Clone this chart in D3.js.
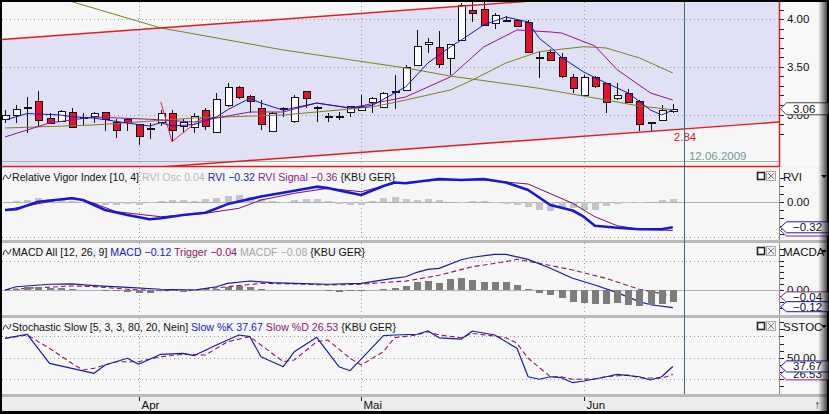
<!DOCTYPE html>
<html>
<head>
<meta charset="utf-8">
<script src="https://cdn.jsdelivr.net/npm/d3@7/dist/d3.min.js"></script>
<style>
html,body{margin:0;padding:0;background:#000;}
svg{display:block;}
text{font-family:"Liberation Sans",Arial,sans-serif;white-space:pre;}
</style>
</head>
<body>
<svg id="chart" width="829" height="414"></svg>
<script>
// ---- Data: KBU GER, daily, 16.03.2009 – 12.06.2009 ----
const dates = [
  "16.03.2009","17.03.2009","18.03.2009","19.03.2009","20.03.2009","23.03.2009","24.03.2009","25.03.2009","26.03.2009","27.03.2009","30.03.2009","31.03.2009",
  "01.04.2009","02.04.2009","03.04.2009","06.04.2009","07.04.2009","08.04.2009","09.04.2009","14.04.2009","15.04.2009","16.04.2009","17.04.2009","20.04.2009","21.04.2009","22.04.2009","23.04.2009","24.04.2009","27.04.2009","28.04.2009","29.04.2009","30.04.2009",
  "04.05.2009","05.05.2009","06.05.2009","07.05.2009","08.05.2009","11.05.2009","12.05.2009","13.05.2009","14.05.2009","15.05.2009","18.05.2009","19.05.2009","20.05.2009","21.05.2009","22.05.2009","25.05.2009","26.05.2009","27.05.2009","28.05.2009","29.05.2009",
  "02.06.2009","03.06.2009","04.06.2009","05.06.2009","08.06.2009","09.06.2009","10.06.2009","11.06.2009","12.06.2009"
];
const monthNames = ["Jan","Feb","Mär","Apr","Mai","Jun","Jul","Aug","Sep","Okt","Nov","Dez"];

const open = [
  2.950,2.987,3.076,3.142,2.960,2.932,3.029,2.971,2.977,3.023,
  2.924,2.956,2.900,2.855,2.924,3.019,2.879,2.866,3.047,2.809,
  3.097,3.286,3.191,3.065,2.827,3.065,2.932,3.247,3.082,2.987,
  2.987,3.029,3.047,3.124,3.076,3.247,3.265,3.520,3.741,3.712,
  3.590,3.783,4.098,4.105,3.964,3.993,3.993,3.968,3.607,3.660,
  3.607,3.397,3.205,3.391,3.334,3.176,3.223,3.145,2.924,2.942,
  3.037];
const high = [
  3.047,3.100,3.181,3.247,3.016,3.047,3.068,3.019,3.026,3.023,
  2.950,2.966,2.900,2.908,3.047,3.047,2.950,3.013,3.065,3.223,
  3.334,3.299,3.205,3.152,3.029,3.082,3.205,3.247,3.089,3.013,
  3.029,3.089,3.205,3.187,3.240,3.415,3.520,3.888,3.800,3.880,
  3.737,4.168,4.185,4.185,4.063,4.038,4.003,3.993,3.660,3.685,
  3.643,3.425,3.415,3.404,3.334,3.334,3.265,3.152,2.924,3.100,
  3.110];
const low = [
  2.911,2.911,2.803,2.879,2.900,2.926,2.869,2.890,2.911,2.827,
  2.756,2.830,2.680,2.743,2.879,2.714,2.803,2.803,2.837,2.803,
  3.082,3.160,3.013,2.837,2.819,2.977,2.907,3.065,2.924,2.924,
  2.942,2.977,3.047,3.013,3.065,3.055,3.257,3.520,3.643,3.485,
  3.415,3.775,3.975,3.940,3.895,3.975,3.922,3.643,3.380,3.572,
  3.380,3.229,3.198,3.275,3.013,3.152,3.118,2.830,2.830,2.935,
  3.013];
const close = [
  2.995,3.055,3.076,2.942,2.907,3.034,2.872,2.971,3.013,2.953,
  2.845,2.921,2.777,2.855,3.019,2.845,2.924,2.984,2.879,3.160,
  3.286,3.181,3.142,2.900,3.013,3.065,3.187,3.170,3.082,2.987,
  2.987,3.089,3.082,3.170,3.223,3.247,3.502,3.720,3.765,3.538,
  3.737,4.150,4.069,3.940,4.045,3.993,3.933,3.653,3.607,3.580,
  3.404,3.286,3.397,3.299,3.134,3.205,3.124,2.900,2.924,3.047,
  3.06];

// moving averages as [day index, price]
const maFast = [[0,2.942],[2,3.010],[5,2.995],[6,2.977],[8,2.962],[11,2.910],[13,2.879],[14,2.914],[15,2.879],[17,2.895],[19,2.975],[20,3.050],[22,3.170],[23,3.120],[25,3.045],[28,3.120],[31,3.068],[33,3.095],[36,3.290],[38,3.541],[40,3.709],[41,3.783],[43,3.940],[45,4.024],[47,3.972],[48,3.800],[49,3.709],[50,3.600],[52,3.446],[54,3.331],[56,3.226],[58,3.047],[59,2.995],[60,3.047]];
const maMid = [[0,2.764],[4,2.911],[8,2.974],[13,2.950],[17,2.921],[22,3.026],[25,3.026],[28,3.121],[31,3.068],[36,3.184],[40,3.394],[43,3.709],[46,3.888],[49,3.867],[50,3.856],[53,3.720],[55,3.470],[58,3.226],[60,3.152]];
const maSlow = [[0,2.858],[8,2.890],[17,2.963],[25,2.995],[33,3.079],[36,3.152],[40,3.257],[42,3.362],[45,3.541],[48,3.660],[52,3.712],[54,3.699],[57,3.594],[60,3.436]];
const maLong = [[0,4.370],[6,4.185],[14,3.909],[25,3.678],[36,3.489],[40,3.404],[48,3.275],[54,3.152],[57,3.089],[60,3.050]];
const zigzag = [[14,3.134],[15,2.714],[18,2.995]];
// trend channel: [day index, price] anchors of the lower line, upper line runs parallel
const channelLower = [[0,2.33],[60,2.84]];
const channelWidth = 1.46;

// Relative Vigor Index [10, 4]
const rvi = [[0,-0.104],[1,-0.095],[3,0.0],[6,0.043],[7,0.021],[9,-0.104],[11,-0.166],[13,-0.22],[14,-0.207],[16,-0.166],[18,-0.138],[20,-0.03],[23,0.065],[26,0.138],[28,0.188],[29,0.17],[30,0.14],[32,0.084],[34,0.196],[35,0.24],[36,0.23],[39,0.284],[41,0.271],[43,0.284],[45,0.24],[47,0.146],[49,-0.041],[51,-0.11],[52,-0.188],[53,-0.30],[55,-0.325],[57,-0.345],[59,-0.345],[60,-0.32]];
const rviSignal = [[0,-0.104],[6,0.055],[8,-0.02],[10,-0.125],[14,-0.188],[18,-0.145],[21,-0.083],[23,0.021],[26,0.105],[29,0.168],[32,0.125],[35,0.23],[39,0.271],[43,0.271],[47,0.221],[48,0.16],[51,-0.02],[53,-0.188],[55,-0.30],[57,-0.345],[59,-0.354],[60,-0.36]];
const rviOsc = [
  0,0.01,0.02,0.05,0.03,0.02,0.01,-0.01,-0.03,-0.04,
  -0.04,-0.03,-0.04,-0.02,0.01,0.02,0.02,0.01,0.03,0.05,
  0.07,0.08,0.06,0.03,0.01,-0.01,0.02,0.04,0.03,0.01,
  -0.03,-0.04,-0.04,0.01,0.05,0.06,0.03,0.02,0.03,0.02,
  0,-0.01,0.01,0.01,-0.01,-0.03,-0.04,-0.06,-0.10,-0.11,
  -0.07,-0.08,-0.10,-0.10,-0.05,-0.03,-0.02,-0.02,0,0.02,
  0.04];

// MACD All [12, 26, 9]
const macd = [[0,0],[1,0.022],[4,0.039],[6,0.041],[8,0.03],[11,0.018],[14,0.005],[17,0],[19,0.022],[20,0.045],[22,0.061],[24,0.05],[26,0.045],[29,0.039],[32,0.045],[35,0.08],[36,0.09],[37,0.12],[38,0.14],[39,0.147],[41,0.205],[42,0.222],[44,0.242],[45,0.242],[47,0.208],[49,0.147],[51,0.08],[53,0.034],[55,-0.018],[57,-0.079],[58,-0.1],[60,-0.12]];
const trigger = [[0,0],[2,0.012],[6,0.027],[8,0.023],[11,0.005],[14,-0.005],[17,0],[20,0.022],[23,0.045],[26,0.041],[29,0.034],[32,0.039],[35,0.056],[36,0.06],[39,0.1],[42,0.158],[45,0.192],[46,0.208],[48,0.181],[51,0.136],[54,0.079],[57,0.005],[60,-0.04]];
const macdf = [
  0,0.01,0.02,0.02,0.015,0.015,0.005,0.003,0.003,-0.005,
  -0.01,-0.015,-0.018,-0.02,-0.01,-0.01,-0.012,-0.01,0.005,0.01,
  0.02,0.025,0.02,0.005,0.003,0.003,0.003,0,-0.003,-0.005,
  -0.012,-0.008,-0.005,0.003,0.01,0.015,0.03,0.052,0.063,0.05,
  0.072,0.079,0.068,0.056,0.056,0.052,0.034,0.007,-0.023,-0.034,
  -0.056,-0.079,-0.09,-0.095,-0.095,-0.09,-0.101,-0.108,-0.105,-0.095,
  -0.08];

// Stochastic Slow [5, 3, 3, 80, 20]
const slowK = [[0,77.3],[2,83],[4,42.1],[6,35],[8,28],[9,39.7],[11,49.2],[12,40.7],[14,54.8],[16,56.2],[17,53],[19,67.9],[21,82],[22,79.6],[23,51.4],[25,37.3],[26,58.5],[28,78.7],[30,37.3],[31,31.7],[32,48],[34,81],[35,82],[37,83],[38,87.6],[39,78],[41,76.3],[42,87.6],[44,82],[46,63.2],[47,23.2],[48,19.6],[49,23.2],[50,21.8],[51,14.8],[52,17.2],[54,23.2],[55,26.6],[57,23.2],[58,18.6],[59,23.2],[60,37.67]];
const slowD = [[0,77.3],[2,82],[4,63.2],[6,42.1],[7,32.7],[8,35.1],[10,44.4],[12,44.4],[14,51.4],[16,54.8],[18,53.8],[20,72.5],[22,79.6],[23,67.9],[25,44.4],[26,46.8],[28,72.5],[29,74.9],[31,49.2],[32,39.7],[34,58.5],[35,78.2],[37,82],[38,86.6],[39,82],[41,78.2],[42,84.4],[45,78.2],[46,70.3],[47,49.2],[49,23.2],[50,23.2],[51,19.6],[53,20],[54,23.2],[56,25.6],[57,21.8],[59,21],[60,26.53]];
const stochLevels = [80, 50, 20];

// ---- Layout ----
const svg = d3.select("#chart");
const n = dates.length;
const plotL = 2, plotR = 779, axL = 780, axR = 827;
const x = d3.scaleLinear().domain([0, n - 1]).range([5, 672.8]);

const panels = {
  main: {top: 2, bottom: 166},
  rvi:  {top: 168, bottom: 240},
  macd: {top: 243, bottom: 315},
  sto:  {top: 318, bottom: 394}
};
const yMain = d3.scaleLinear().domain([3, 4]).range([114.5, 19.3]);
const yRvi  = d3.scaleLinear().domain([-0.32, 0]).range([227.3, 201.7]);
const yMacd = d3.scaleLinear().domain([-0.12, 0]).range([307.7, 290]);
const ySto  = d3.scaleLinear().domain([0, 100]).range([393.2, 322.2]);

const fmt2 = d3.format(".2f");
const defs = svg.append("defs");
Object.entries(panels).forEach(([k, p]) => {
  defs.append("clipPath").attr("id", "clip-" + k)
    .append("rect").attr("x", plotL).attr("y", p.top).attr("width", plotR - plotL).attr("height", p.bottom - p.top);
});
const edge = defs.append("linearGradient").attr("id", "edge").attr("x1", 0).attr("x2", 1);
edge.append("stop").attr("offset", 0).attr("stop-color", "#000").attr("stop-opacity", 0);
edge.append("stop").attr("offset", 1).attr("stop-color", "#000").attr("stop-opacity", 0.85);

// frame backgrounds
svg.append("rect").attr("width", 829).attr("height", 414).attr("fill", "#000");
svg.append("rect").attr("x", 2).attr("y", 2).attr("width", 825).attr("height", 409).attr("fill", "#f2f2f2");
Object.values(panels).forEach(p => {
  svg.append("rect").attr("x", plotL).attr("y", p.top).attr("width", plotR - plotL).attr("height", p.bottom - p.top).attr("fill", "#f6f6f6");
  svg.append("rect").attr("x", axL).attr("y", p.top).attr("width", axR - axL).attr("height", p.bottom - p.top).attr("fill", "#f7f7f7");
});
[240, 315, 394].forEach(y => svg.append("rect").attr("x", 2).attr("y", y).attr("width", 825).attr("height", 3).attr("fill", "#b9b9b9"));
svg.append("rect").attr("x", 2).attr("y", 397).attr("width", 825).attr("height", 14).attr("fill", "#ececec");

// month boundaries
const monthTicks = [];
for (let i = 1; i < n; i++) {
  if (dates[i].slice(3, 5) !== dates[i - 1].slice(3, 5)) monthTicks.push({i, label: monthNames[+dates[i].slice(3, 5) - 1]});
}

const dotted = {"stroke": "#9a9a9a", "stroke-width": 1, "stroke-dasharray": "1,3"};
function applyAttrs(sel, a) { Object.entries(a).forEach(([k, v]) => sel.attr(k, v)); return sel; }

function vGrid(g, p) {
  monthTicks.forEach(t => {
    applyAttrs(g.append("line").attr("x1", Math.round(x(t.i)) + 0.5).attr("x2", Math.round(x(t.i)) + 0.5)
      .attr("y1", p.top).attr("y2", p.bottom), dotted);
  });
}
function hGrid(g, y) {
  applyAttrs(g.append("line").attr("x1", plotL).attr("x2", plotR).attr("y1", Math.round(y) + 0.5).attr("y2", Math.round(y) + 0.5), dotted);
}
function linePath(g, pts, yS, color, width, dash) {
  const l = d3.line().x(d => x(d[0])).y(d => yS(d[1]));
  const p = g.append("path").attr("d", l(pts)).attr("fill", "none").attr("stroke", color).attr("stroke-width", width).attr("stroke-linejoin", "round");
  if (dash) p.attr("stroke-dasharray", dash);
  return p;
}
// value marker on the right axis; label omitted when it sits fully under another marker
function callout(y, label, stroke, h) {
  const hh = h / 2;
  svg.append("path")
    .attr("d", `M${axL + 0.5},${y} L${axL + 6.5},${y - hh} L829,${y - hh} L829,${y + hh} L${axL + 6.5},${y + hh} Z`)
    .attr("fill", "#fff").attr("stroke", stroke).attr("stroke-width", 1);
  if (label) svg.append("text").attr("x", axL + 13).attr("y", y + 4).attr("font-size", 11.5).attr("fill", "#111").text(label);
}
function axisTicks(yS, values, p) {
  values.forEach(v => {
    const y = Math.round(yS(v)) + 0.5;
    if (y < p.top + 3 || y > p.bottom - 1) return;
    svg.append("line").attr("x1", axL).attr("x2", axL + 4).attr("y1", y).attr("y2", y).attr("stroke", "#222");
  });
}
function axisLabel(yS, v, p, text) {
  svg.append("text").attr("x", axL + 7).attr("y", yS(v) + 4).attr("font-size", 11.5).attr("fill", "#111").text(text);
}
function panelHeader(p, name, parts) {
  // small wave glyph
  svg.append("path").attr("d", `M3,${p.top + 12} Q5,${p.top + 4} 7,${p.top + 9} Q9,${p.top + 14} 11,${p.top + 6}`)
    .attr("fill", "none").attr("stroke", "#333").attr("stroke-width", 1);
  const t = svg.append("text").attr("x", 12).attr("y", p.top + 13).attr("font-size", 10.6);
  parts.forEach((s, k) => t.append("tspan").attr("fill", s[1]).text((k ? " " : "") + s[0]));
  // window buttons
  svg.append("rect").attr("x", 757.5).attr("y", p.top + 4.5).attr("width", 7).attr("height", 7).attr("fill", "#fff").attr("stroke", "#222").attr("stroke-width", 1.6);
  svg.append("rect").attr("x", 766.5).attr("y", p.top + 3.5).attr("width", 9).attr("height", 9).attr("fill", "#eee").attr("stroke", "#aaa");
  svg.append("path").attr("d", `M768,${p.top + 5} L774,${p.top + 11} M774,${p.top + 5} L768,${p.top + 11}`).attr("stroke", "#777").attr("stroke-width", 1);
  svg.append("text").attr("x", axL + 3).attr("y", p.top + 13).attr("font-size", 11.5).attr("fill", "#111").text(name);
  svg.append("path").attr("d", `M821,${p.top + 7} L827,${p.top + 7} L824,${p.top + 10} Z`).attr("fill", "#111");
}

// ---- Main price panel ----
{
  const p = panels.main;
  const g = svg.append("g").attr("clip-path", "url(#clip-main)");
  const lowerLine = d3.scaleLinear().domain(channelLower.map(d => d[0])).range(channelLower.map(d => d[1]));
  const i0 = x.invert(plotL), i1 = x.invert(plotR);
  const chan = [[i0, lowerLine(i0) + channelWidth], [i1, lowerLine(i1) + channelWidth], [i1, lowerLine(i1)], [i0, lowerLine(i0)]];
  g.append("path").attr("d", "M" + chan.map(d => [x(d[0]), yMain(d[1])].join(",")).join("L") + "Z").attr("fill", "#e1e1f6");

  [3, 3.5, 4].forEach(v => hGrid(g, yMain(v)));
  vGrid(g, p);
  g.append("line").attr("x1", plotL).attr("x2", plotR).attr("y1", 161.5).attr("y2", 161.5).attr("stroke", "#aab2aa");

  // candles
  const cg = g.append("g").attr("shape-rendering", "crispEdges");
  d3.range(n).forEach(i => {
    const cx = Math.round(x(i)) + 0.5;
    cg.append("line").attr("x1", cx).attr("x2", cx).attr("y1", yMain(high[i])).attr("y2", yMain(low[i])).attr("stroke", "#111");
    const top = yMain(Math.max(open[i], close[i])), bot = yMain(Math.min(open[i], close[i]));
    if (Math.abs(open[i] - close[i]) < 0.004) {
      cg.append("line").attr("x1", cx - 4).attr("x2", cx + 4).attr("y1", Math.round(top) + 0.5).attr("y2", Math.round(top) + 0.5).attr("stroke", "#111").attr("stroke-width", 2);
    } else {
      cg.append("rect").attr("x", cx - 3.5).attr("y", Math.round(top) + 0.5).attr("width", 7).attr("height", Math.max(1, Math.round(bot - top)))
        .attr("fill", close[i] < open[i] ? "#e3132e" : "#ffffff").attr("stroke", "#111");
    }
  });

  linePath(g, maLong, yMain, "#7f7f1c", 1);
  linePath(g, maSlow, yMain, "#7f7f1c", 1);
  linePath(g, maMid, yMain, "#96128f", 1);
  linePath(g, maFast, yMain, "#1515c8", 1);

  [0, channelWidth].forEach(off => {
    g.append("line").attr("x1", x(i0)).attr("x2", x(i1))
      .attr("y1", yMain(lowerLine(i0) + off)).attr("y2", yMain(lowerLine(i1) + off))
      .attr("stroke", "#e01c1c").attr("stroke-width", 1.4);
  });
  linePath(g, zigzag, yMain, "#e02a3a", 1);

  g.append("text").attr("x", x(n - 1) + 1).attr("y", yMain(lowerLine(n - 1)) + 11).attr("font-size", 11.5).attr("fill", "#e02020").text(fmt2(lowerLine(n - 1)));
  g.append("text").attr("x", x(n) + 5).attr("y", 160).attr("font-size", 11.5).attr("fill", "#6f9a9a").text(dates[n - 1]);

  // frame
  svg.append("line").attr("x1", plotR + 0.5).attr("x2", plotR + 0.5).attr("y1", p.top).attr("y2", p.bottom + 1).attr("stroke", "#e02020").attr("stroke-width", 1.5);
  svg.append("line").attr("x1", plotL).attr("x2", plotR + 1).attr("y1", p.bottom + 0.5).attr("y2", p.bottom + 0.5).attr("stroke", "#e02020").attr("stroke-width", 1.5);

  axisTicks(yMain, d3.range(28, 43).map(v => v / 10), p);
  [3, 3.5, 4].forEach(v => axisLabel(yMain, v, p, fmt2(v)));
  callout(yMain(close[n - 1]), fmt2(close[n - 1]), "#444", 12);
}

// ---- Relative Vigor Index ----
{
  const p = panels.rvi;
  const g = svg.append("g").attr("clip-path", "url(#clip-rvi)");
  vGrid(g, p);
  hGrid(g, yRvi(-0.445));
  g.append("line").attr("x1", plotL).attr("x2", plotR).attr("y1", Math.round(yRvi(0)) + 0.5).attr("y2", Math.round(yRvi(0)) + 0.5).attr("stroke", "#b0b0b0");
  g.append("g").attr("shape-rendering", "crispEdges").selectAll("rect").data(rviOsc).join("rect")
    .attr("x", (d, i) => Math.round(x(i)) - 3).attr("width", 7)
    .attr("y", d => Math.min(yRvi(d), yRvi(0))).attr("height", d => Math.abs(yRvi(d) - yRvi(0)))
    .attr("fill", "#c4c4c4");
  linePath(g, rviSignal, yRvi, "#7a0a7a", 1);
  linePath(g, rvi, yRvi, "#1818d0", 2.6);
  svg.append("line").attr("x1", axL - 0.5).attr("x2", axL - 0.5).attr("y1", p.top).attr("y2", p.bottom).attr("stroke", "#8a8a8a");
  axisTicks(yRvi, d3.range(-4, 4).map(v => v / 10), p);
  axisLabel(yRvi, 0, p, "0.00");
  callout(yRvi(rviSignal[rviSignal.length - 1][1]), null, "#8a1a8a", 11);
  callout(yRvi(rvi[rvi.length - 1][1]), fmt2(rvi[rvi.length - 1][1]), "#1818c0", 11);
  panelHeader(p, "RVI", [
    ["Relative Vigor Index [10, 4]", "#111"],
    ["RVI Osc " + fmt2(rviOsc[n - 1]), "#b8b8b8"],
    ["RVI " + fmt2(rvi[rvi.length - 1][1]), "#1a1ac0"],
    ["RVI Signal " + fmt2(rviSignal[rviSignal.length - 1][1]), "#8a1a8a"],
    ["{KBU GER}", "#111"]]);
}

// ---- MACD ----
{
  const p = panels.macd;
  const g = svg.append("g").attr("clip-path", "url(#clip-macd)");
  vGrid(g, p);
  hGrid(g, yMacd(0.2));
  hGrid(g, yMacd(-0.17));
  g.append("line").attr("x1", plotL).attr("x2", plotR).attr("y1", Math.round(yMacd(0)) + 0.5).attr("y2", Math.round(yMacd(0)) + 0.5).attr("stroke", "#b0b0b0");
  linePath(g, trigger, yMacd, "#8a1a6a", 1.1, "5,3");
  linePath(g, macd, yMacd, "#1a1aa0", 1.2);
  g.append("g").attr("shape-rendering", "crispEdges").selectAll("rect").data(macdf).join("rect")
    .attr("x", (d, i) => Math.round(x(i)) - 3).attr("width", 7)
    .attr("y", d => Math.min(yMacd(d), yMacd(0))).attr("height", d => Math.abs(yMacd(d) - yMacd(0)))
    .attr("fill", "#7c7c7c");
  svg.append("line").attr("x1", axL - 0.5).attr("x2", axL - 0.5).attr("y1", p.top).attr("y2", p.bottom).attr("stroke", "#8a8a8a");
  axisTicks(yMacd, d3.range(-4, 8).map(v => v * 0.04), p);
  axisLabel(yMacd, 0, p, "0.00");
  callout(yMacd(trigger[trigger.length - 1][1]) + 1, fmt2(trigger[trigger.length - 1][1]), "#8a1a8a", 10);
  callout(yMacd(macd[macd.length - 1][1]) - 1, fmt2(macd[macd.length - 1][1]), "#1818c0", 10);
  panelHeader(p, "MACDA", [
    ["MACD All [12, 26, 9]", "#111"],
    ["MACD " + fmt2(macd[macd.length - 1][1]), "#1a1ac0"],
    ["Trigger " + fmt2(trigger[trigger.length - 1][1]), "#8a1a6a"],
    ["MACDF " + fmt2(macdf[n - 1]), "#a8a8a8"],
    ["{KBU GER}", "#111"]]);
}

// ---- Stochastic Slow ----
{
  const p = panels.sto;
  const g = svg.append("g").attr("clip-path", "url(#clip-sto)");
  vGrid(g, p);
  stochLevels.forEach(v => hGrid(g, ySto(v)));
  linePath(g, slowD, ySto, "#8a1a6a", 1.1, "5,3");
  linePath(g, slowK, ySto, "#1a1aa8", 1.2);
  svg.append("line").attr("x1", axL - 0.5).attr("x2", axL - 0.5).attr("y1", p.top).attr("y2", p.bottom).attr("stroke", "#8a8a8a");
  axisTicks(ySto, d3.range(0, 11).map(v => v * 10), p);
  axisLabel(ySto, 50, p, "50.00");
  callout(ySto(slowD[slowD.length - 1][1]), fmt2(slowD[slowD.length - 1][1]), "#8a1a8a", 11);
  callout(ySto(slowK[slowK.length - 1][1]), fmt2(slowK[slowK.length - 1][1]), "#1818c0", 11);
  panelHeader(p, "SSTOC", [
    ["Stochastic Slow [5, 3, 3, 80, 20, Nein]", "#111"],
    ["Slow %K " + fmt2(slowK[slowK.length - 1][1]), "#1a1ac0"],
    ["Slow %D " + fmt2(slowD[slowD.length - 1][1]), "#8a1a6a"],
    ["{KBU GER}", "#111"]]);
}

// ---- current-date marker and time axis ----
svg.append("line").attr("x1", Math.round(x(n)) + 0.5).attr("x2", Math.round(x(n)) + 0.5).attr("y1", 2).attr("y2", 394)
  .attr("stroke", "#3d6a7c").attr("stroke-width", 1);
monthTicks.forEach(t => {
  const tx = Math.round(x(t.i)) + 0.5;
  svg.append("line").attr("x1", tx).attr("x2", tx).attr("y1", 397).attr("y2", 401).attr("stroke", "#222");
  svg.append("text").attr("x", tx + 2).attr("y", 409).attr("font-size", 11.5).attr("fill", "#111").text(t.label);
});
svg.append("text").attr("x", 814).attr("y", 409).attr("font-size", 12).attr("fill", "#111").text("↑");
svg.append("rect").attr("x", 818).attr("y", 2).attr("width", 11).attr("height", 409).attr("fill", "url(#edge)");
</script>
</body>
</html>
